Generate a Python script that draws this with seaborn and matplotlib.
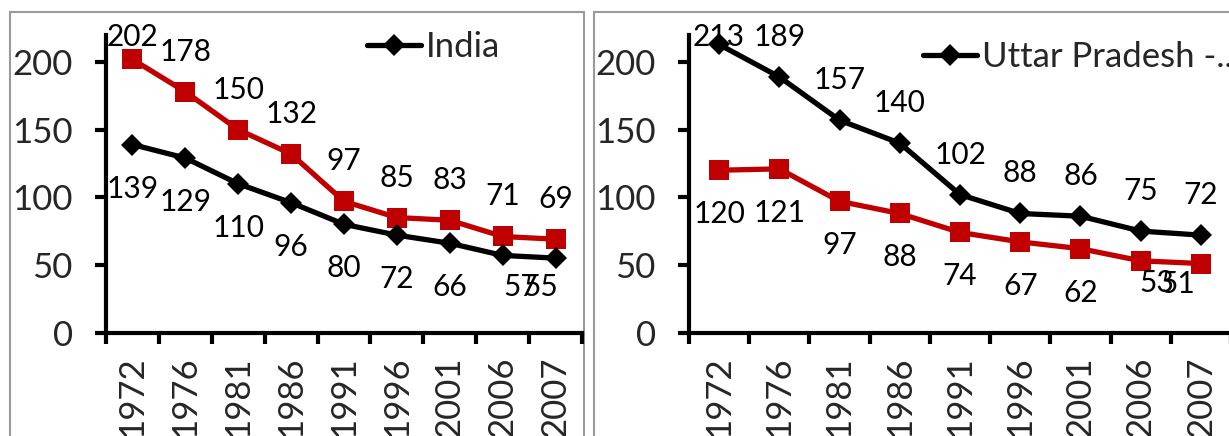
import numpy as np
import pandas as pd
import matplotlib
matplotlib.use("Agg")
import matplotlib.pyplot as plt
import seaborn as sns
from matplotlib.patches import Rectangle

# Survey years shown on both panels
years = ["1972", "1976", "1981", "1986", "1991", "1996", "2001", "2006", "2007"]

# Left panel
india_name = "India"
india_black = [139, 129, 110, 96, 80, 72, 66, 57, 55]
india_red = [202, 178, 150, 132, 97, 85, 83, 71, 69]

# Right panel
up_name = "Uttar Pradesh -..."
up_black = [213, 189, 157, 140, 102, 88, 86, 75, 72]
up_red = [120, 121, 97, 88, 74, 67, 62, 53, 51]

RED = "#C00000"
BLACK = "#000000"
W, H = 1229, 436
TICK_FS = 25
LABEL_FS = 21.5

sns.set_style("white")
plt.rcParams["font.family"] = ["Lato", "DejaVu Sans"]

fig = plt.figure(figsize=(W / 100, H / 100), dpi=100)


def px_axes(x0, x1, ytop, ybot):
    return fig.add_axes([x0 / W, (H - ybot) / H, (x1 - x0) / W, (ybot - ytop) / H])


# chart-area frames
for x0, x1 in [(10, 583.5), (594, 1240)]:
    fig.add_artist(Rectangle((x0 / W, -0.05), (x1 - x0) / W, (H - 12) / H + 0.05,
                             transform=fig.transFigure, fill=False,
                             ec="#9A9A9A", lw=1.5, zorder=0))

YTOP = 220
PX_PER_UNIT = (332.5 - 35) / YTOP
TOP_LABEL = 218.5


def draw(ax, black, red, name, black_above, nudges, legend_xy):
    pos = np.arange(len(years))
    df = pd.DataFrame({"pos": pos, "black": black, "red": red})

    sns.lineplot(data=df, x="pos", y="red", ax=ax, color=RED, lw=3.8,
                 marker="s", ms=15, mec=RED, mew=0, legend=False,
                 zorder=3, clip_on=False)
    sns.lineplot(data=df, x="pos", y="black", ax=ax, color=BLACK, lw=3.8,
                 marker="D", ms=11.5, mec=BLACK, mew=0, legend=False,
                 zorder=4, clip_on=False)

    ax.set_xlim(-0.5, len(years) - 0.5)
    ax.set_ylim(0, YTOP)
    ax.set_xlabel("")
    ax.set_ylabel("")

    # value labels: one series above its points, the other below
    above = 40 / PX_PER_UNIT
    below = 44 / PX_PER_UNIT
    for key, vals in (("black", black), ("red", red)):
        up = black_above if key == "black" else not black_above
        for i, v in enumerate(vals):
            y = min(v + above, TOP_LABEL) if up else v - below
            dx, dy = nudges.get((key, i), (0, 0))
            ax.annotate(str(v), xy=(i, y), xytext=(dx, dy),
                        textcoords="offset pixels", ha="center", va="center",
                        fontsize=LABEL_FS, color=BLACK, annotation_clip=False,
                        zorder=5)

    # category axis: ticks between categories, labels under each category
    ax.set_xticks(np.arange(-0.5, len(years), 1.0))
    ax.set_xticklabels([])
    ax.set_xticks(pos, minor=True)
    ax.set_xticklabels(years, minor=True, rotation=90, fontsize=TICK_FS)
    ax.tick_params(axis="x", which="major", direction="out", length=8,
                   width=3, color=BLACK, bottom=True)
    ax.tick_params(axis="x", which="minor", length=0, pad=17)

    ax.set_yticks([0, 50, 100, 150, 200])
    ax.tick_params(axis="y", direction="out", length=8, width=3, color=BLACK,
                   labelsize=TICK_FS, pad=16, left=True)

    sns.despine(ax=ax)
    for s in ("left", "bottom"):
        ax.spines[s].set_linewidth(3)
        ax.spines[s].set_color(BLACK)

    black_line = ax.get_lines()[1]
    fs_px = TICK_FS / 72 * 100
    ax.legend([black_line], [name], loc="center left",
              bbox_to_anchor=(legend_xy[0] / W, (H - legend_xy[1]) / H),
              bbox_transform=fig.transFigure, frameon=False, fontsize=TICK_FS,
              borderpad=0, borderaxespad=0, handlelength=54 / fs_px,
              handletextpad=5 / fs_px)


ax1 = px_axes(106, 582, 35, 332.5)
draw(ax1, india_black, india_red, india_name, black_above=False,
     nudges={("black", 7): (18, 12), ("black", 8): (-15, 15)},
     legend_xy=(367, 47))

ax2 = px_axes(689, 1231, 35, 332.5)
draw(ax2, up_black, up_red, up_name, black_above=True,
     nudges={("red", 7): (16, 22), ("red", 8): (-23, 24)},
     legend_xy=(923, 57))

fig.savefig("out.png", dpi=100)
